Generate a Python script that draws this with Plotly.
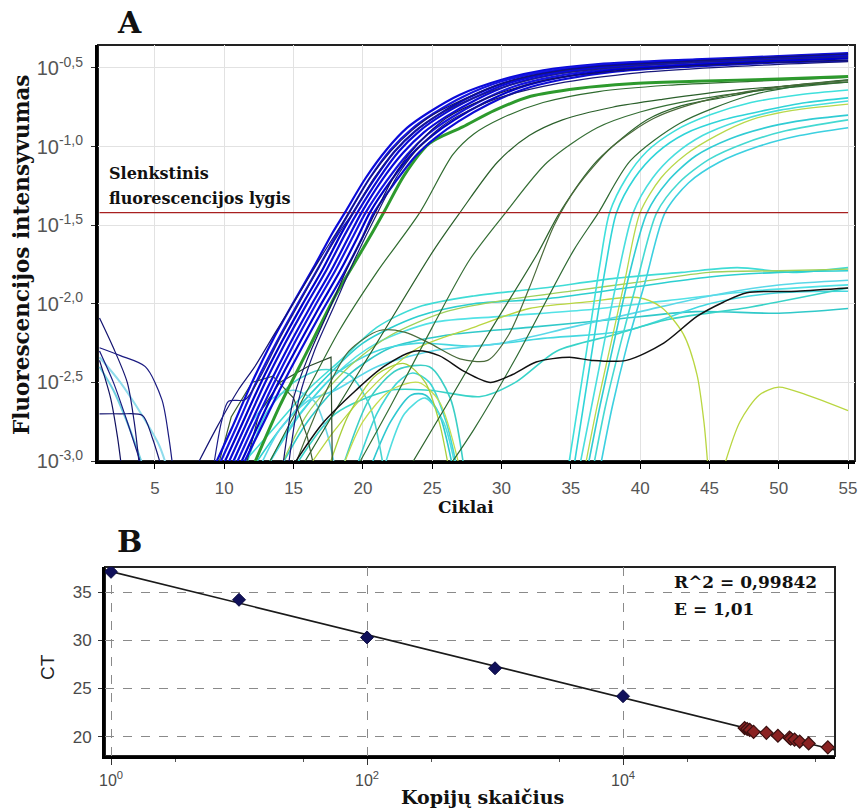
import numpy as np
import plotly.graph_objects as go

W, H = 860, 808

# ---------------- Panel A data (cycle, log10 fluorescence) ----------------
CYCLE_TICKS = [5, 10, 15, 20, 25, 30, 35, 40, 45, 50, 55]
Y_TICK_EXP = [-3.0, -2.5, -2.0, -1.5, -1.0, -0.5]
Y_TICK_TEXT = ["10<sup>-3,0</sup>", "10<sup>-2,5</sup>", "10<sup>-2,0</sup>",
               "10<sup>-1,5</sup>", "10<sup>-1,0</sup>", "10<sup>-0,5</sup>"]
THRESHOLD_LOG = -1.42
THRESHOLD_CYCLES = [1, 55]

blue_curves = [
    [(9.2,-3.05),(10.5,-2.8),(12,-2.5),(13.5,-2.23),(15,-1.99),(16.5,-1.76),(17.8,-1.55),(18.7,-1.42),(20.2,-1.2),(21.7,-1.02),(23.2,-0.88),(24.8,-0.78),(27,-0.67),(30,-0.575),(33,-0.515),(37,-0.475),(44,-0.445),(50,-0.425),(55,-0.405)],
    [(9.5,-3.05),(10.8,-2.8),(12.3,-2.5),(13.8,-2.24),(15.3,-2.0),(16.8,-1.77),(18.1,-1.56),(19.0,-1.42),(20.5,-1.2),(22,-1.02),(23.5,-0.89),(25.1,-0.79),(27.3,-0.68),(30,-0.585),(33,-0.525),(37,-0.48),(44,-0.45),(50,-0.43),(55,-0.41)],
    [(9.8,-3.05),(11.1,-2.8),(12.6,-2.51),(14.1,-2.25),(15.6,-2.01),(17.1,-1.78),(18.4,-1.56),(19.3,-1.42),(20.8,-1.21),(22.3,-1.03),(23.8,-0.9),(25.4,-0.8),(27.6,-0.69),(30.2,-0.595),(33,-0.535),(37,-0.49),(44,-0.455),(50,-0.435),(55,-0.415)],
    [(10.1,-3.05),(11.4,-2.8),(12.9,-2.51),(14.4,-2.25),(15.9,-2.01),(17.4,-1.78),(18.7,-1.56),(19.6,-1.42),(21.1,-1.21),(22.6,-1.03),(24.1,-0.9),(25.7,-0.8),(27.9,-0.695),(30.4,-0.6),(33.2,-0.54),(37,-0.495),(44,-0.46),(50,-0.44),(55,-0.42)],
    [(10.4,-3.05),(11.7,-2.8),(13.2,-2.52),(14.7,-2.26),(16.2,-2.02),(17.7,-1.79),(19.0,-1.57),(19.9,-1.42),(21.4,-1.21),(22.9,-1.04),(24.4,-0.91),(26,-0.81),(28.2,-0.7),(30.7,-0.605),(33.5,-0.545),(37.2,-0.5),(44,-0.465),(50,-0.445),(55,-0.43)],
    [(10.7,-3.05),(12,-2.8),(13.5,-2.52),(15,-2.26),(16.5,-2.02),(18,-1.79),(19.3,-1.57),(20.2,-1.42),(21.7,-1.22),(23.2,-1.05),(24.7,-0.92),(26.3,-0.82),(28.5,-0.71),(31,-0.615),(33.8,-0.555),(37.5,-0.51),(44,-0.475),(50,-0.45),(55,-0.435)],
    [(11.0,-3.05),(12.3,-2.8),(13.8,-2.52),(15.3,-2.27),(16.8,-2.03),(18.3,-1.8),(19.6,-1.58),(20.5,-1.42),(22,-1.22),(23.5,-1.05),(25,-0.93),(26.6,-0.83),(28.8,-0.72),(31.3,-0.625),(34,-0.565),(37.8,-0.515),(44,-0.48),(50,-0.455),(55,-0.44)],
    [(11.2,-3.05),(12.6,-2.8),(14.1,-2.53),(15.6,-2.28),(17.1,-2.04),(18.6,-1.81),(19.9,-1.59),(20.8,-1.42),(22.3,-1.23),(23.8,-1.06),(25.3,-0.94),(26.9,-0.84),(29.1,-0.73),(31.6,-0.635),(34.3,-0.575),(38,-0.525),(44,-0.49),(50,-0.465),(55,-0.455)],
]

navy_curves = [
    [(7.9,-3.05),(9.5,-2.78),(11,-2.55),(12.2,-2.4),(13.7,-2.18),(15.1,-1.98),(17,-1.7),(19,-1.42),(20.5,-1.2),(22,-1.03),(23.5,-0.9),(25,-0.8),(27.5,-0.69),(30,-0.6),(33,-0.535),(37,-0.49),(44,-0.455),(50,-0.43),(55,-0.41)],
    [(9.2,-3.05),(9.8,-2.75),(10.3,-2.62),(11.5,-2.61),(12.5,-2.48),(14,-2.22),(15.5,-1.98),(17,-1.74),(18.5,-1.52),(19.3,-1.42),(20.8,-1.2),(22.3,-1.03),(23.8,-0.9),(25.4,-0.8),(28,-0.69),(31,-0.6),(34,-0.54),(38,-0.5),(45,-0.46),(55,-0.43)],
    [(14.2,-3.05),(15,-2.6),(16,-2.35),(17.5,-2.05),(19,-1.75),(20.9,-1.42),(22.5,-1.15),(24,-0.98),(26,-0.82),(29,-0.69),(33,-0.58),(38,-0.52),(45,-0.48),(55,-0.45)],
    [(14.6,-3.05),(15.4,-2.6),(16.5,-2.3),(18,-2.0),(19.5,-1.7),(21,-1.43),(22.6,-1.17),(24.2,-0.99),(26.2,-0.84),(29.5,-0.7),(34,-0.6),(40,-0.53),(47,-0.49),(55,-0.46)],
]

early_navy = [
    [(1,-2.09),(2,-2.28),(3,-2.5),(3.5,-2.75),(3.9,-3.05)],
    [(1,-2.28),(2.5,-2.33),(4.3,-2.4),(5.5,-2.61),(6,-2.85),(6.3,-3.05)],
    [(1,-2.36),(1.8,-2.6),(2.3,-2.85),(2.6,-3.05)],
    [(1,-2.7),(2.5,-2.7),(4.1,-2.71),(4.8,-2.85),(5.5,-3.05)],
    [(1,-2.3),(2,-2.5),(3,-2.75),(4.1,-3.05)],
]
early_cyan = [
    [(1,-2.34),(2.5,-2.5),(4,-2.7),(5.3,-2.9),(5.9,-3.05)],
    [(1,-2.4),(2,-2.55),(3.2,-2.8),(4.2,-3.05)],
]

green_thick = [
    [(12,-3.05),(14,-2.65),(16,-2.3),(18,-1.95),(20,-1.65),(21.5,-1.42),(23,-1.18),(24.8,-0.98),(27.2,-0.875),(29.5,-0.77),(32.1,-0.68),(35.5,-0.63),(39.3,-0.6),(44,-0.585),(50,-0.57),(55,-0.555)],
]

green_curves = [
    [(13,-3.05),(16,-2.55),(18.3,-2.17),(21,-1.8),(24.1,-1.42),(26.5,-1.05),(28,-0.92),(30,-0.82),(33,-0.72),(37,-0.65),(42,-0.61),(48,-0.585),(55,-0.56)],
    [(15.5,-3.05),(18,-2.68),(21,-2.25),(25.1,-1.66),(27,-1.42),(29.7,-1.1),(32,-0.93),(34.4,-0.83),(38,-0.75),(41.6,-0.7),(47,-0.64),(55,-0.59)],
    [(19.5,-3.05),(22,-2.65),(25,-2.15),(27.7,-1.72),(30.3,-1.42),(33.3,-1.1),(36.9,-0.88),(40,-0.78),(44.1,-0.7),(49,-0.64),(55,-0.59)],
    [(23.3,-3.05),(26,-2.65),(29,-2.2),(32.6,-1.68),(34.2,-1.42),(36.9,-1.09),(40.5,-0.83),(43,-0.74),(46.5,-0.68),(50,-0.62),(55,-0.575)],
    [(26.1,-3.05),(28,-2.8),(31,-2.35),(35.2,-1.66),(37,-1.42),(39.3,-1.09),(42.9,-0.85),(47.7,-0.68),(51,-0.62),(55,-0.575)],
    [(15,-3.05),(17,-2.62),(19,-2.3),(21.2,-2.17),(23,-2.18),(24.8,-2.25),(27,-2.35),(29,-2.36),(30.5,-2.2),(32,-1.9),(33.8,-1.5),(35.5,-1.25),(38,-1.0),(41,-0.82),(45,-0.7),(50,-0.62),(55,-0.58)],
]

dark_extra = [
    [(11.5,-3.05),(12.5,-2.7),(14,-2.5),(16,-2.4),(17.7,-2.34),(17.8,-3.1)],
    [(9.5,-3.05),(10.5,-2.72),(12,-2.5),(13.5,-2.46),(15,-2.6),(16,-2.85),(16.5,-3.05)],
]

black_curve = [
    [(14.8,-3.05),(17.1,-2.76),(19.5,-2.55),(21.5,-2.4),(23.8,-2.3),(25.5,-2.33),(27.3,-2.43),(29.2,-2.5),(30.8,-2.45),(32.5,-2.37),(34.9,-2.34),(36.5,-2.36),(39,-2.36),(41.7,-2.25),(44.1,-2.08),(46,-1.99),(47.7,-1.93),(51.3,-1.92),(55,-1.9)],
]

cyan_late = [
    [(34.8,-3.05),(35.6,-2.6),(36.4,-2.15),(37.1,-1.75),(37.8,-1.42),(39,-1.2),(40.5,-1.03),(42.5,-0.9),(45,-0.8),(48,-0.72),(51.5,-0.67),(55,-0.64)],
    [(35.2,-3.05),(36,-2.6),(36.8,-2.15),(37.5,-1.77),(38.3,-1.42),(39.6,-1.2),(41.2,-1.04),(43.2,-0.92),(46,-0.83),(49,-0.77),(52,-0.72),(55,-0.69)],
    [(35.6,-3.05),(36.5,-2.65),(37.4,-2.25),(38.4,-1.82),(39.5,-1.42),(40.9,-1.2),(42.5,-1.05),(44.5,-0.93),(47,-0.84),(50,-0.77),(55,-0.71)],
    [(36.2,-3.05),(37.1,-2.65),(38.1,-2.25),(39.2,-1.82),(40.5,-1.42),(42,-1.22),(44,-1.06),(46.5,-0.95),(49.5,-0.87),(52,-0.83),(55,-0.8)],
    [(36.6,-3.05),(37.5,-2.65),(38.6,-2.25),(39.8,-1.85),(41.2,-1.42),(42.8,-1.23),(45,-1.08),(47.5,-0.98),(50.5,-0.9),(55,-0.83)],
    [(37.1,-3.05),(38,-2.65),(39.1,-2.25),(40.4,-1.85),(41.8,-1.42),(43.5,-1.23),(45.7,-1.1),(48.5,-1.0),(51.5,-0.93),(55,-0.88)],
]
yellow_late = [
    [(36,-3.05),(36.9,-2.65),(37.9,-2.25),(38.9,-1.85),(40,-1.42),(41.5,-1.2),(43.3,-1.05),(45.5,-0.93),(48,-0.83),(51,-0.77),(55,-0.73)],
]

cyan_flat = [
    [(11,-3.05),(13.5,-2.8),(16,-2.55),(18.5,-2.35),(21,-2.15),(24,-2.02),(28,-1.95),(33,-1.9),(38,-1.84),(43,-1.8),(47,-1.77),(51,-1.8),(55,-1.77)],
    [(12,-3.05),(14,-2.8),(17,-2.5),(20,-2.25),(24,-2.08),(28,-2.0),(33,-1.97),(39,-1.9),(45,-1.83),(50,-1.8),(55,-1.79)],
    [(13,-3.05),(15,-2.75),(18,-2.45),(21,-2.25),(25,-2.12),(30,-2.08),(36,-2.04),(42,-1.98),(48,-1.92),(55,-1.88)],
    [(14,-3.05),(16,-2.75),(19,-2.45),(22,-2.28),(26,-2.2),(32,-2.15),(38,-2.1),(44,-2.05),(50,-2.06),(55,-2.03)],
    [(13,-3.05),(15.5,-2.7),(18,-2.45),(21,-2.3),(24,-2.25),(28,-2.27),(33,-2.22),(39,-2.17),(45,-2.0),(50,-1.93),(55,-1.92)],
    [(15,-3.05),(18,-2.7),(22,-2.55),(24.8,-2.55),(28.5,-2.59),(31,-2.5),(34,-2.3),(38,-2.2),(42,-2.1),(48,-2.02),(55,-1.9)],
    [(12.5,-3.05),(14,-2.8),(16,-2.62),(18,-2.55),(21,-2.4),(25,-2.3),(30,-2.25),(35,-2.15),(40,-2.05),(45,-1.95),(50,-1.88),(55,-1.85)],
]
cyan_hump = [
    [(19.5,-3.05),(21,-2.7),(22.5,-2.5),(23.6,-2.44),(24.8,-2.5),(26,-2.75),(26.8,-3.05)],
    [(20.5,-3.05),(22,-2.75),(23.5,-2.58),(24.5,-2.58),(25.5,-2.7),(26.5,-3.05)],
    [(21.5,-3.05),(23,-2.7),(24.5,-2.6),(25.8,-2.75),(26.7,-3.05)],
    [(18.5,-3.05),(20.5,-2.6),(22.5,-2.42),(24.8,-2.4),(26.3,-2.6),(27.3,-3.05)],
    [(10.5,-3.05),(12,-2.75),(13.5,-2.6),(15,-2.55),(16.5,-2.62),(17.5,-2.85),(18,-3.05)],
    [(11.5,-3.05),(13,-2.7),(15,-2.5),(17,-2.42),(19,-2.45),(20.5,-2.65),(21.5,-3.05)],
]
yellow_curves = [
    [(16,-3.05),(18,-2.8),(21,-2.5),(24,-2.28),(28,-2.15),(32,-2.03),(36,-1.99),(39.8,-1.96),(41.5,-2.02),(43.1,-2.19),(44.1,-2.45),(44.6,-2.75),(44.9,-3.05)],
    [(46.0,-3.05),(47.2,-2.75),(48.6,-2.58),(50,-2.53),(52,-2.58),(55,-2.68)],
    [(18.5,-3.05),(20,-2.75),(22,-2.55),(24,-2.5),(25.5,-2.62),(27,-3.05)],
    [(17.5,-3.05),(19,-2.7),(21,-2.45),(23,-2.38),(24.5,-2.5),(25.5,-2.75),(26.2,-3.05)],
    [(14,-3.05),(16,-2.7),(19,-2.4),(22,-2.2),(26,-2.05),(30,-1.98),(35,-1.92),(40,-1.86),(45,-1.8),(50,-1.79),(55,-1.78)],
]

# ---------------- Panel B data ----------------
STD_LOG_COPIES = [0, 1, 2, 3, 4]
STD_CT = [37.1, 34.2, 30.3, 27.1, 24.2]
SAMPLE_LOG_COPIES = [4.95, 4.97, 4.99, 5.02, 5.12, 5.21, 5.30, 5.31, 5.34, 5.38, 5.45, 5.60]
SAMPLE_CT = [20.9, 20.8, 20.7, 20.5, 20.4, 20.1, 19.9, 19.8, 19.7, 19.5, 19.3, 18.9]
B_X_TICK_EXP = [0, 2, 4]
B_X_MINOR_EXP = [0.5, 1.5, 2.5, 3.5, 4.5, 5.5]
B_Y_TICKS = [20, 25, 30, 35]
B_X_RANGE_EXP = [-0.047, 5.656]
B_Y_RANGE = [18.0, 37.6]
R2_TEXT = "R^2 = 0,99842"
E_TEXT = "E = 1,01"

# ---------------- figure ----------------
fig = go.Figure()


def add_group(curves, colors, width, shape="spline"):
    for i, c in enumerate(curves):
        col = colors[i % len(colors)]
        fig.add_trace(go.Scatter(
            x=[p[0] for p in c], y=[10 ** p[1] for p in c], mode="lines",
            line=dict(color=col, width=width, shape=shape, smoothing=0.8),
            hoverinfo="skip", showlegend=False, xaxis="x", yaxis="y"))


add_group(early_cyan, ["#8fdcec", "#6fd0e0"], 2.0)
add_group(cyan_flat, ["#3fdcd6", "#2ccfd0", "#52e2e6", "#30c9c9", "#45d8e0", "#38d3c8", "#5ad8e8"], 1.6)
add_group(cyan_hump, ["#3fd6d6", "#2ec8d0", "#50dde0", "#3bcfc6", "#6ad6e6", "#48d4d0"], 1.6)
add_group(yellow_curves, ["#b9d640", "#b9d640", "#c4dc4c", "#a9cf3a", "#9fd05a"], 1.3)
add_group(cyan_late, ["#3fe0dc", "#2fd4d8", "#48dede", "#30ccd4", "#44d9d2", "#3cd0e0"], 1.6)
add_group(yellow_late, ["#b8d84a"], 1.3)
add_group(green_curves, ["#2f6b2f", "#2a5f2a", "#356e35", "#2d642d", "#2f6a33", "#4a6a3a"], 1.2)
add_group(dark_extra, ["#2b4a2b", "#3c5a2c"], 1.2, shape="linear")
add_group(green_thick, ["#2d9a2d"], 3.0)
add_group(black_curve, ["#111111"], 1.5)

fig.add_trace(go.Scatter(
    x=THRESHOLD_CYCLES, y=[10 ** THRESHOLD_LOG] * 2, mode="lines",
    line=dict(color="#a82020", width=1.4), hoverinfo="skip", showlegend=False,
    xaxis="x", yaxis="y"))

add_group(early_navy, ["#141470", "#1a1a80", "#101060"], 1.2)
add_group(blue_curves, ["#0a0ad8", "#1414e0", "#0000cc", "#0c0cd4"], 2.2)
add_group(navy_curves, ["#151575", "#1c1c88", "#121268", "#18187a"], 1.2)

# Panel B marks
all_lx = np.array(STD_LOG_COPIES + SAMPLE_LOG_COPIES, dtype=float)
all_ct = np.array(STD_CT + SAMPLE_CT, dtype=float)
slope, intercept = np.polyfit(all_lx, all_ct, 1)
line_lx = np.array(B_X_RANGE_EXP)
fig.add_trace(go.Scatter(
    x=10 ** line_lx, y=slope * line_lx + intercept, mode="lines",
    line=dict(color="#1a1a1a", width=1.6), hoverinfo="skip", showlegend=False,
    xaxis="x2", yaxis="y2", cliponaxis=True))
fig.add_trace(go.Scatter(
    x=[10 ** v for v in STD_LOG_COPIES], y=STD_CT, mode="markers",
    marker=dict(symbol="diamond", size=10, color="#10105a", line=dict(color="#0a0a40", width=1)),
    hoverinfo="skip", showlegend=False, xaxis="x2", yaxis="y2"))
fig.add_trace(go.Scatter(
    x=[10 ** v for v in SAMPLE_LOG_COPIES], y=SAMPLE_CT, mode="markers",
    marker=dict(symbol="diamond", size=10, color="#8a2222", line=dict(color="#3a1010", width=1.2)),
    hoverinfo="skip", showlegend=False, xaxis="x2", yaxis="y2"))

sans = "Liberation Sans, Arial, sans-serif"
A_X0, A_X1, A_Y0, A_Y1 = 98, 855, 45, 461
B_X0, B_X1, B_Y0, B_Y1 = 105, 835, 567, 756

fig.update_layout(
    width=W, height=H, margin=dict(l=0, r=0, t=0, b=0, autoexpand=False),
    paper_bgcolor="white", plot_bgcolor="white", showlegend=False,
    xaxis=dict(domain=[A_X0 / W, A_X1 / W], range=[0.89, 55.5], anchor="y", automargin=False,
               tickmode="array", tickvals=CYCLE_TICKS, ticks="outside", ticklen=5,
               tickcolor="black", showline=True, linewidth=3, linecolor="black",
               showgrid=True, gridcolor="#e2e2e2", gridwidth=1, zeroline=False,
               tickfont=dict(family=sans, size=17, color="#555"), ticklabelstandoff=5),
    yaxis=dict(domain=[1 - A_Y1 / H, 1 - A_Y0 / H], type="log", range=[-3.0, -0.354],
               anchor="x", automargin=False, tickmode="array",
               tickvals=[10 ** e for e in Y_TICK_EXP],
               ticktext=Y_TICK_TEXT, ticks="outside", ticklen=4, tickcolor="#333",
               showline=True, linewidth=3, linecolor="black", showgrid=True,
               gridcolor="#e2e2e2", gridwidth=1, zeroline=False, ticklabelstandoff=4,
               tickfont=dict(family=sans, size=20, color="#555")),
    xaxis2=dict(domain=[B_X0 / W, B_X1 / W], type="log", range=B_X_RANGE_EXP, anchor="y2",
                automargin=False, tickmode="array", tickvals=[10 ** e for e in B_X_TICK_EXP],
                ticktext=["10<sup>%d</sup>" % e for e in B_X_TICK_EXP],
                ticks="outside", ticklen=6, tickcolor="#333",
                minor=dict(tickmode="array", tickvals=[10 ** e for e in B_X_MINOR_EXP],
                           ticks="outside", ticklen=3, tickcolor="#555", showgrid=False),
                showline=True, linewidth=3, linecolor="black", showgrid=True,
                gridcolor="#8a8a8a", griddash="dash", gridwidth=1, zeroline=False,
                tickfont=dict(family=sans, size=16, color="#4a4a4a"),
                ticklabelstandoff=2),
    yaxis2=dict(domain=[1 - B_Y1 / H, 1 - B_Y0 / H], range=B_Y_RANGE, anchor="x2",
                automargin=False, tickmode="array", tickvals=B_Y_TICKS, ticks="outside",
                ticklen=4, tickcolor="#333", showline=True, linewidth=3, linecolor="black",
                showgrid=True, gridcolor="#8a8a8a", griddash="dash", gridwidth=1,
                zeroline=False, ticklabelstandoff=3,
                tickfont=dict(family=sans, size=17, color="#4a4a4a")),
)

# thin top/right frame lines
for xr, yr in (("x domain", "y domain"), ("x2 domain", "y2 domain")):
    fig.add_shape(type="rect", xref=xr, yref=yr, x0=0, x1=1, y0=0, y1=1,
                  line=dict(color="#222", width=2), layer="below")

serif = "DejaVu Serif, Liberation Serif, serif"


def ann(text, px, py, size, xanchor="left", yanchor="middle", angle=0, color="#111", family=serif):
    fig.add_annotation(text=text, x=px / W, y=1 - py / H, xref="paper", yref="paper",
                       showarrow=False, xanchor=xanchor, yanchor=yanchor, textangle=angle,
                       font=dict(family=family, size=size, color=color))


ann("<b>A</b>", 115, 22, 30)
ann("<b>B</b>", 115, 541, 30)
ann("<b>Slenkstinis</b>", 107, 174, 16)
ann("<b>fluorescencijos lygis</b>", 107, 198, 16)
ann("<b>Fluorescencijos intensyvumas</b>", 22, 255, 21.5, xanchor="center", angle=-90)
ann("<b>Ciklai</b>", 466, 507, 17, xanchor="center")
ann("<b>Kopijų skaičius</b>", 482, 797, 19, xanchor="center")
ann("CT", 47, 667, 19, xanchor="center", angle=-90, color="#222", family=sans)
ann("<b>" + R2_TEXT + "</b>", 672, 582, 17)
ann("<b>" + E_TEXT + "</b>", 672, 609, 17)

fig.write_html(
    "out.html",
    config={"displayModeBar": False},
    post_script="document.body.style.margin='0px';document.body.style.overflow='hidden';",
)
